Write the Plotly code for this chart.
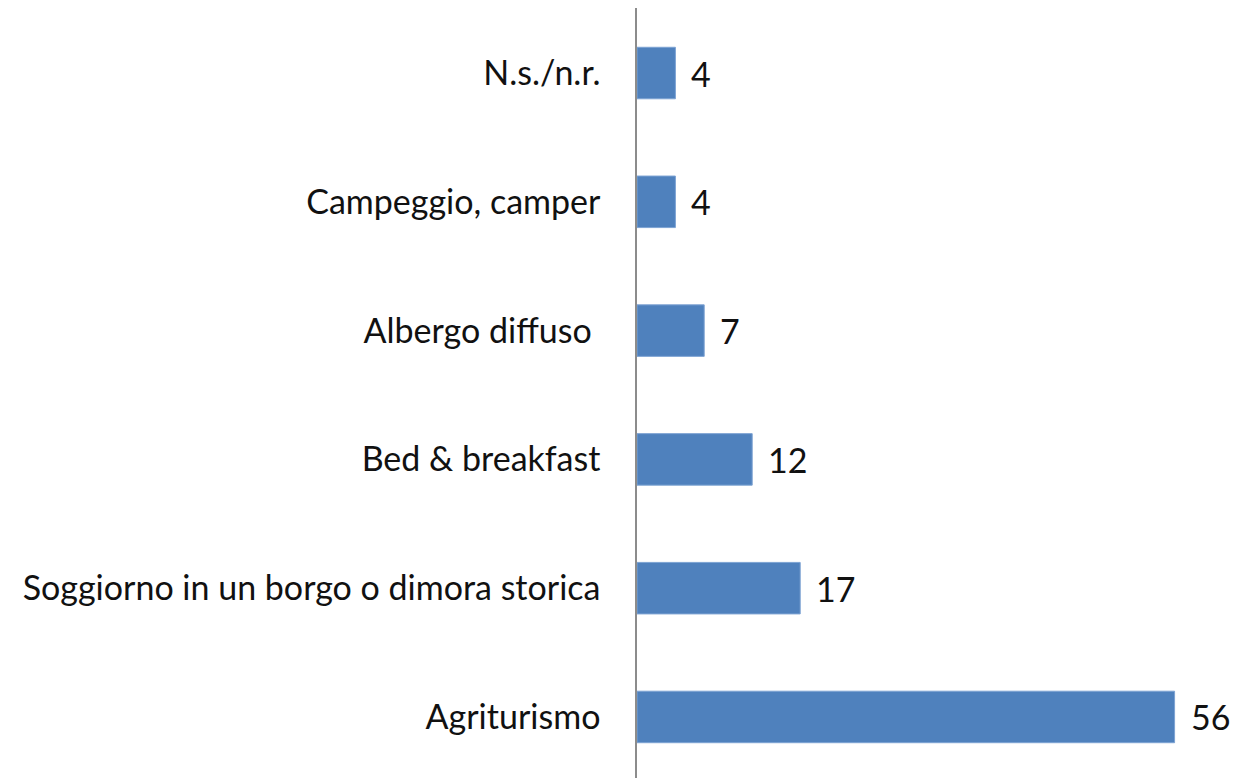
import plotly.graph_objects as go

categories = ["Agriturismo", "Soggiorno in un borgo o dimora storica", "Bed & breakfast",
              "Albergo diffuso ", "Campeggio, camper", "N.s./n.r."]
values = [56, 17, 12, 7, 4, 4]
value_labels = ["56", "17", "12", "7", "4", "4"]

FONT = "Lato"
FS = 34
fig = go.Figure()
fig.add_trace(go.Bar(
    y=categories, x=values, orientation="h",
    marker=dict(color="#4F81BD", line=dict(color="#7DA3D3", width=1)),
    width=0.4, hoverinfo="skip",
))
for c, v, t in zip(categories, values, value_labels):
    fig.add_annotation(x=v, y=c, text=t, showarrow=False, xanchor="left",
                       xshift=14, font=dict(family=FONT, size=FS, color="#111111"))

fig.update_layout(
    width=1234, height=778,
    margin=dict(l=637, r=2, t=8, b=0),
    paper_bgcolor="white", plot_bgcolor="white",
    showlegend=False,
    xaxis=dict(range=[0, 61.98], visible=False, showgrid=False, zeroline=False),
    yaxis=dict(range=[-0.474, 5.505], showline=True, linecolor="#8C8C8C", linewidth=1.5,
               showgrid=False, zeroline=False, ticks="", ticklabelstandoff=28,
               tickfont=dict(family=FONT, size=FS, color="#111111")),
)
fig.write_html("out.html", config={"displayModeBar": False},
               post_script="document.body.style.margin='0';document.body.style.overflow='hidden';")
